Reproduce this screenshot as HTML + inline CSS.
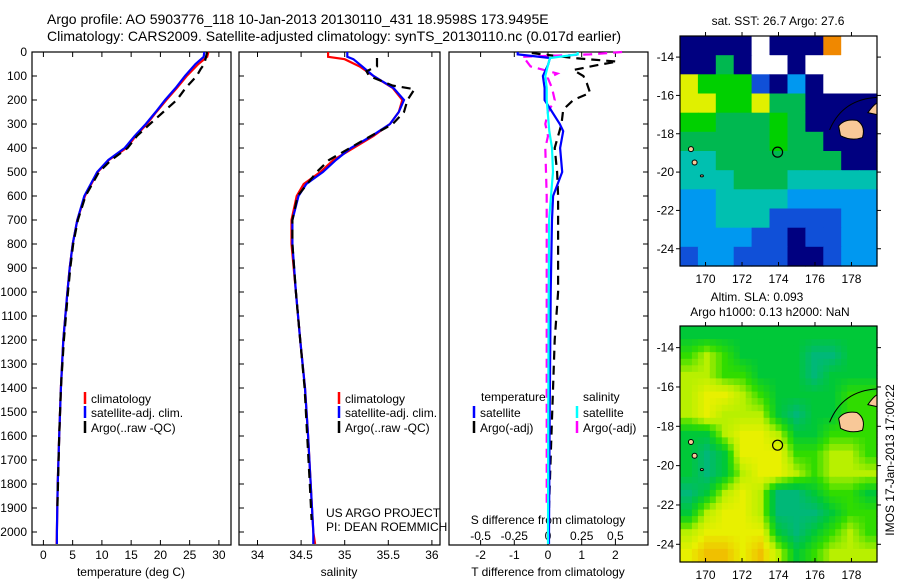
<!DOCTYPE html>
<html><head><meta charset="utf-8"><style>
body{margin:0;background:#fff;}
svg{display:block;font-family:"Liberation Sans",sans-serif;}
</style></head><body>
<svg id="s" width="900" height="580" xmlns="http://www.w3.org/2000/svg"></svg>
<script>
// ---------- data ----------
const depthTick=[0,100,200,300,400,500,600,700,800,900,1000,1100,1200,1300,1400,1500,1600,1700,1800,1900,2000];
const tTicks=[0,5,10,15,20,25,30];
const sTicks=[34,34.5,35,35.5,36];
const tdTicks=[-2,-1,0,1,2];
const sdTicks=[-0.5,-0.25,0,0.25,0.5];
const sdTickLbl=["-0.5","-0.25","0","0.25","0.5"];

const tDep=[0,20,50,100,150,200,250,300,350,400,450,500,600,700,800,900,1000,1200,1400,1600,1800,2000,2050];
const tClim=[28.2,28,26.5,24.5,22.8,21,19.3,17.7,15.8,14.2,11.2,9.3,7.1,5.8,5,4.5,4.1,3.4,3.0,2.7,2.45,2.3,2.25];
const tSat=[27.5,27.4,26,24.2,22.6,20.8,19.2,17.5,15.6,13.9,11.1,9.2,7.0,5.8,5,4.5,4.1,3.4,3.0,2.7,2.45,2.3,2.3];
const aDep=[0,20,50,70,100,150,200,250,300,350,400,450,500,600,700,800,900,1000,1200,1400,1600,1800,1900];
const tArgo=[28,27.8,27.5,26.9,26.2,24.3,22.8,20.5,18.2,16,14.4,11.6,9.5,7.2,5.9,5.1,4.6,4.2,3.5,3.0,2.7,2.5,2.4];

const sDep=[0,20,30,60,100,150,200,250,300,350,400,450,500,550,600,700,800,1000,1200,1400,1600,1800,2000,2050];
const sClim=[34.81,34.81,35.0,35.17,35.33,35.55,35.66,35.62,35.52,35.33,35.1,34.87,34.72,34.53,34.45,34.39,34.39,34.44,34.49,34.545,34.58,34.61,34.64,34.66];
const sSat=[35.03,35.03,35.1,35.2,35.33,35.56,35.68,35.62,35.52,35.31,35.07,34.9,34.75,34.56,34.47,34.4,34.4,34.44,34.49,34.545,34.58,34.61,34.64,34.64];
const sADep=[25,60,80,100,140,155,200,250,300,350,400,450,500,600,700,800,1000,1200,1400,1600,1800,1950];
const sArgo=[35.37,35.37,35.25,35.28,35.55,35.8,35.72,35.68,35.55,35.3,35.06,34.82,34.68,34.46,34.4,34.4,34.44,34.49,34.54,34.57,34.6,34.62];

const dDep=[0,10,25,54,100,150,200,300,330,400,500,600,700,1000,1500,2000,2050];
const dTsat=[-0.9,-0.9,0.06,0,-0.15,-0.1,-0.1,0.35,0.45,0.36,0.42,0.15,0.12,0.08,0.05,0.03,0.03];
const dSsat=[0.22,0.22,0.015,0.0,-0.02,-0.01,-0.01,0.005,0.01,0.03,0.037,0.022,0.008,0.005,0.002,0,0];
const dADep=[0,5,25,40,55,75,100,130,170,200,240,300,400,500,600,700,1000,1200,1600,1900];
const dTargo=[-0.45,-0.45,0.75,2.05,1.45,0.75,1.05,1.15,1.25,0.75,0.45,0.4,0.2,0.27,0.3,0.3,0.3,0.2,0.1,0.03];
const dSdep=[0,10,20,30,60,90,110,150,200,250,300,350,400,500,600,800,1200,1900];
const dSargo=[0.55,0.31,-0.19,-0.17,-0.13,0.07,0,0.03,0.05,0,-0.02,0,-0.02,-0.015,-0.01,-0.01,-0.01,-0.01];

const sstGrid=["11110111800","11510010000","76662131000","77667551111","66555651111","55555655111","44555555511","44455544444","33444433333","33444222233","33332212233","23322211233"];
const slaGrid=["22222222222","34322221122","44332221222","45543222233","45444212233","22455422333","21255533443","21245543444","12454112332","24554111233","45555212343","56656423444"];
const sstLatTicks=[-14,-16,-18,-20,-22,-24];
const lonTicks=[170,172,174,176,178];

// ---------- helpers ----------
const S=document.getElementById('s');
const NS="http://www.w3.org/2000/svg";
function el(t,a,p){const e=document.createElementNS(NS,t);for(const k in a)e.setAttribute(k,a[k]);(p||S).appendChild(e);return e;}
function txt(x,y,s,a,p){const e=el('text',Object.assign({x:x,y:y,'font-size':12,fill:'#000'},a||{}),p);e.textContent=s;return e;}
const Y=d=>52+d*0.24;
const TOP=52,BOT=545;

function panel(name,l,r){
  const g=el('g',{});
  el('rect',{x:l,y:TOP,width:r-l,height:BOT-TOP,fill:'none',stroke:'#000','stroke-width':1.2},g);
  return g;
}
function line(g,xs,ds,fx,color,dash,name){
  const pts=xs.map((v,i)=>fx(v).toFixed(1)+','+Y(ds[i]).toFixed(1)).join(' ');
  const p=el('polyline',{points:pts,fill:'none',stroke:color,'stroke-width':2.2},g);
  if(dash)p.setAttribute('stroke-dasharray',dash);
  
}
function xticks(g,ticks,fx,labels,ly,top){
  ticks.forEach((t,i)=>{const x=fx(t);
    el('line',{x1:x,x2:x,y1:BOT,y2:BOT-5,stroke:'#000'},g);
    if(top)el('line',{x1:x,x2:x,y1:TOP,y2:TOP+5,stroke:'#000'},g);
    const e=txt(x,ly,labels?labels[i]:String(t),{'text-anchor':'middle'},g);
    });
}
function legEntry(g,x,y,color,label,name){
  el('line',{x1:x,x2:x,y1:y-11,y2:y+1,stroke:color,'stroke-width':2.5},g);
  const t=txt(x+6,y,label,{},g);
}

// titles
let t1=txt(47,24,"Argo profile: AO 5903776_118 10-Jan-2013 20130110_431 18.9598S 173.9495E",{'font-size':14});

let t2=txt(47,41,"Climatology: CARS2009. Satellite-adjusted climatology: synTS_20130110.nc (0.017d earlier)",{'font-size':14});


// ---------- panel 1: temperature ----------
const fT=t=>43.4+t*5.85;
const g1=panel('temperature-panel',32,231);
depthTick.forEach(d=>{el('line',{x1:32,x2:37,y1:Y(d),y2:Y(d),stroke:'#000'},g1);
  const e=txt(27,Y(d)+4,String(d),{'text-anchor':'end'},g1);});
xticks(g1,tTicks,fT,null,559,true);
let xl=txt(131,576,"temperature (deg C)",{'text-anchor':'middle'},g1);
line(g1,tClim,tDep,fT,'#ff0000',null,'temp-climatology-line');
line(g1,tSat,tDep,fT,'#0000ff',null,'temp-satellite-line');
line(g1,tArgo,aDep,fT,'#000',"9,6",'temp-argo-line');
legEntry(g1,85,403,'#ff0000','climatology','legend-climatology');
legEntry(g1,85,417,'#0000ff','satellite-adj. clim.','legend-satellite');
legEntry(g1,85,432,'#000','Argo(..raw -QC)','legend-argo');

// ---------- panel 2: salinity ----------
const fS=s=>257.5+(s-34)*87.2;
const g2=panel('salinity-panel',239,440);
depthTick.forEach(d=>{el('line',{x1:239,x2:244,y1:Y(d),y2:Y(d),stroke:'#000'},g2);});
xticks(g2,sTicks,fS,null,559,true);
xl=txt(339,576,"salinity",{'text-anchor':'middle'},g2);
line(g2,sClim,sDep,fS,'#ff0000',null,'sal-climatology-line');
line(g2,sSat,sDep,fS,'#0000ff',null,'sal-satellite-line');
line(g2,sArgo,sADep,fS,'#000',"9,6",'sal-argo-line');
legEntry(g2,339,403,'#ff0000','climatology','legend-climatology');
legEntry(g2,339,417,'#0000ff','satellite-adj. clim.','legend-satellite');
legEntry(g2,339,432,'#000','Argo(..raw -QC)','legend-argo');
let pr=txt(326,517,"US ARGO PROJECT",{},g2);
pr=txt(326,531,"PI: DEAN ROEMMICH",{},g2);

// ---------- panel 3: differences ----------
const fD=v=>548+v*33.7;
const fSD=v=>548+v*134.8;
const g3=panel('difference-panel',449,648);
depthTick.forEach(d=>{el('line',{x1:643,x2:648,y1:Y(d),y2:Y(d),stroke:'#000'},g3);});
xticks(g3,tdTicks,fD,null,559,false);
sdTicks.forEach((v,i)=>{const x=fSD(v);el('line',{x1:x,x2:x,y1:TOP,y2:TOP+5,stroke:'#000'},g3);
  const e=txt(x,540,sdTickLbl[i],{'text-anchor':'middle'},g3);});
xl=txt(548,576,"T difference from climatology",{'text-anchor':'middle'},g3);
xl=txt(548,524,"S difference from climatology",{'text-anchor':'middle'},g3);
line(g3,dTargo,dADep,fD,'#000',"9,6",'tdiff-argo-line');
line(g3,dSargo,dSdep,fSD,'#ff00ff',"9,6",'sdiff-argo-line');
line(g3,dTsat,dDep,fD,'#0000ff',null,'tdiff-satellite-line');
line(g3,dSsat,dDep,fSD,'#00ffff',null,'sdiff-satellite-line');
let lt=txt(481,401,"temperature",{},g3);
lt=txt(583,401,"salinity",{},g3);
legEntry(g3,474,417,'#0000ff','satellite','legend-t-satellite');
legEntry(g3,474,432,'#000','Argo(-adj)','legend-t-argo');
legEntry(g3,577,417,'#00ffff','satellite','legend-s-satellite');
legEntry(g3,577,432,'#ff00ff','Argo(-adj)','legend-s-argo');

// ---------- maps ----------
const sstCol={"0":"#ffffff","1":"#000080","2":"#1050d8","3":"#0098f0","4":"#00c0b0","5":"#00b850","6":"#00d000","7":"#e0f000","8":"#f08800"};
const slaPal=[[0,184,120],[0,184,120],[0,200,56],[48,220,0],[184,240,0],[232,240,0],[240,192,0]];
function slaColor(v){const i=Math.max(1,Math.min(5,Math.floor(v)));const f=Math.max(0,Math.min(1,v-i));
  const a=slaPal[i],b=slaPal[i+1];return 'rgb('+a.map((c,k)=>Math.round(c+(b[k]-c)*f)).join(',')+')';}
function map(name,grid,cols,smooth,l,r,top,bot,latTop,latBot,lon0,lon1){
  const g=el('g',{});
  const fx=lo=>l+(lo-lon0)/(lon1-lon0)*(r-l);
  const fy=la=>top+(latTop-la)/(latTop-latBot)*(bot-top);
  const nr=grid.length,nc=grid[0].length;
  if(!smooth){
    const cw=(r-l)/nc,ch=(bot-top)/nr;
    grid.forEach((row,i)=>{for(let j=0;j<nc;j++){
      const c=el('rect',{x:(l+j*cw).toFixed(1),y:(top+i*ch).toFixed(1),width:(cw+0.6).toFixed(1),height:(ch+0.6).toFixed(1),fill:cols[row[j]]},g);
      }});
  } else {
    const sub=3,NR=nr*sub,NC=nc*sub,cw=(r-l)/NC,ch=(bot-top)/NR;
    const val=(i,j)=>+grid[Math.max(0,Math.min(nr-1,i))][Math.max(0,Math.min(nc-1,j))];
    for(let I=0;I<NR;I++)for(let J=0;J<NC;J++){
      const gy=(I+0.5)/sub-0.5,gx=(J+0.5)/sub-0.5;
      const i0=Math.floor(gy),j0=Math.floor(gx),fy2=gy-i0,fx2=gx-j0;
      const v=val(i0,j0)*(1-fx2)*(1-fy2)+val(i0,j0+1)*fx2*(1-fy2)+val(i0+1,j0)*(1-fx2)*fy2+val(i0+1,j0+1)*fx2*fy2;
      const c=el('rect',{x:(l+J*cw).toFixed(1),y:(top+I*ch).toFixed(1),width:(cw+0.6).toFixed(1),height:(ch+0.6).toFixed(1),fill:slaColor(v)},g);
      }
  }
  // land
  el('path',{d:`M${fx(177.3)} ${fy(-17.6)} Q${fx(177.6)} ${fy(-17.2)} ${fx(178.3)} ${fy(-17.3)} Q${fx(178.8)} ${fy(-17.6)} ${fx(178.6)} ${fy(-18.2)} Q${fx(178)} ${fy(-18.4)} ${fx(177.4)} ${fy(-18.1)} Z`,fill:'#f8c898',stroke:'#000','stroke-width':1},g);
  el('path',{d:`M${fx(178.9)} ${fy(-16.9)} Q${fx(179.2)} ${fy(-16.5)} ${fx(179.4)} ${fy(-16.4)} L${fx(179.4)} ${fy(-17)} Z`,fill:'#f8c898',stroke:'#000','stroke-width':1},g);
  el('path',{d:`M${fx(176.8)} ${fy(-17.8)} Q${fx(177.5)} ${fy(-16.2)} ${fx(179.4)} ${fy(-16.1)}`,fill:'none',stroke:'#000','stroke-width':1},g);
  el('ellipse',{cx:fx(169.2),cy:fy(-18.8),rx:2.5,ry:2.5,fill:'#f8c898',stroke:'#000','stroke-width':1},g);
  el('ellipse',{cx:fx(169.4),cy:fy(-19.5),rx:2.5,ry:2.5,fill:'#f8c898',stroke:'#000','stroke-width':1},g);
  el('ellipse',{cx:fx(169.8),cy:fy(-20.2),rx:1.5,ry:1,fill:'#f8c898',stroke:'#000','stroke-width':1},g);
  const m=el('circle',{cx:fx(173.95),cy:fy(-18.96),r:5,fill:'none',stroke:'#000','stroke-width':1.2},g);
  
  el('rect',{x:l,y:top,width:r-l,height:bot-top,fill:'none',stroke:'#000','stroke-width':1.2},g);
  lonTicks.forEach(lo=>{const x=fx(lo);el('line',{x1:x,x2:x,y1:bot,y2:bot-4,stroke:'#000'},g);el('line',{x1:x,x2:x,y1:top,y2:top-4,stroke:'#000'},g);
    const e=txt(x,bot+17,String(lo),{'text-anchor':'middle'},g);});
  sstLatTicks.forEach(la=>{const y=fy(la);el('line',{x1:l,x2:l-4,y1:y,y2:y,stroke:'#000'},g);el('line',{x1:r,x2:r+4,y1:y,y2:y,stroke:'#000'},g);
    const e=txt(l-6,y+4,String(la),{'text-anchor':'end'},g);});
}
map('sst-map',sstGrid,sstCol,false,680,877,36,266,-12.9,-24.9,168.6,179.4);
map('sla-map',slaGrid,null,true,680,877,326,562,-12.9,-24.9,168.6,179.4);
let mt=txt(778,25,"sat. SST: 26.7 Argo: 27.6",{'text-anchor':'middle'});
mt=txt(757,301,"Altim. SLA: 0.093",{'text-anchor':'middle'});
mt=txt(770,316,"Argo h1000: 0.13 h2000: NaN",{'text-anchor':'middle'});
mt=txt(0,0,"IMOS 17-Jan-2013 17:00:22",{'text-anchor':'middle',transform:'translate(894,460) rotate(-90)'});
</script>
</body></html>
